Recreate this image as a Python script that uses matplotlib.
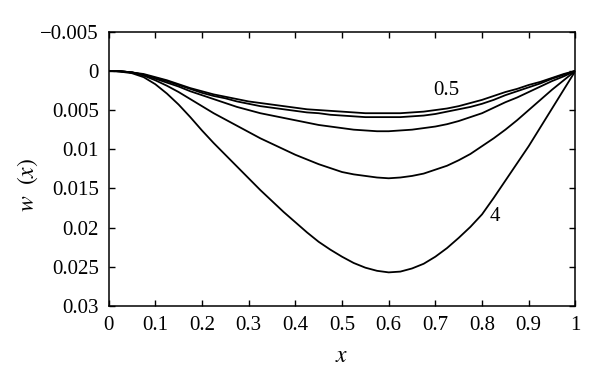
import matplotlib
matplotlib.use("Agg")
import matplotlib.pyplot as plt

# deflection curves (one point every 0.025)
x = [0.0, 0.025, 0.05, 0.075, 0.1, 0.125, 0.15, 0.175, 0.2, 0.225, 0.25,
     0.275, 0.3, 0.325, 0.35, 0.375, 0.4, 0.425, 0.45, 0.475, 0.5,
     0.525, 0.55, 0.575, 0.6, 0.625, 0.65, 0.675, 0.7, 0.725, 0.75,
     0.775, 0.8, 0.825, 0.85, 0.875, 0.9, 0.925, 0.95, 0.975, 1.0]
w_05 = [0, 0.00005, 0.0002, 0.0004, 0.0008, 0.0012, 0.0017, 0.0022, 0.0026, 0.0030, 0.0033,
        0.0036, 0.0039, 0.0041, 0.0043, 0.0045, 0.0047, 0.0049, 0.0050, 0.0051, 0.0052,
        0.0053, 0.0054, 0.0054, 0.0054, 0.0054, 0.0053, 0.0052, 0.0050, 0.0048, 0.0045,
        0.0041, 0.0037, 0.0032, 0.0027, 0.0023, 0.0018, 0.0014, 0.0009, 0.0004, 0]
w_1 = [0, 0.00005, 0.0002, 0.0005, 0.0009, 0.0013, 0.0018, 0.0023, 0.0028, 0.0032, 0.0035,
       0.0039, 0.0042, 0.0045, 0.0047, 0.0049, 0.0051, 0.0053, 0.0054, 0.0056, 0.0057,
       0.0058, 0.0059, 0.0059, 0.0059, 0.0059, 0.0058, 0.0057, 0.0055, 0.0052, 0.0049,
       0.0046, 0.0042, 0.0037, 0.0031, 0.0026, 0.0021, 0.0016, 0.0010, 0.0005, 0]
w_2 = [0, 0.00005, 0.0002, 0.0005, 0.0010, 0.0015, 0.0020, 0.0026, 0.0031, 0.0036, 0.0041,
       0.0046, 0.0050, 0.0054, 0.0057, 0.0060, 0.0063, 0.0066, 0.0069, 0.0071, 0.0073,
       0.0075, 0.0076, 0.0077, 0.0077, 0.0076, 0.0075, 0.0073, 0.0071, 0.0068, 0.0064,
       0.0059, 0.0054, 0.0047, 0.0040, 0.0034, 0.0027, 0.0020, 0.0013, 0.0007, 0]
w_3 = [0, 0.00005, 0.0002, 0.0006, 0.0012, 0.0019, 0.0027, 0.0036, 0.0045, 0.0054, 0.0062,
       0.0070, 0.0078, 0.0086, 0.0093, 0.0100, 0.0107, 0.0113, 0.0119, 0.0124, 0.0129,
       0.0132, 0.0134, 0.0136, 0.0137, 0.0136, 0.0134, 0.0131, 0.0126, 0.0121, 0.0114,
       0.0106, 0.0096, 0.0086, 0.0075, 0.0063, 0.0050, 0.0037, 0.0024, 0.0012, 0]
w_4 = [0, 0.0001, 0.0003, 0.0008, 0.0017, 0.0029, 0.0043, 0.0059, 0.0076, 0.0092, 0.0107,
       0.0122, 0.0137, 0.0152, 0.0166, 0.0180, 0.0193, 0.0206, 0.0218, 0.0228, 0.0237,
       0.0245, 0.0251, 0.0255, 0.0257, 0.0256, 0.0252, 0.0246, 0.0237, 0.0226, 0.0213,
       0.0199, 0.0183, 0.0162, 0.0140, 0.0118, 0.0096, 0.0072, 0.0048, 0.0024, 0]

xticks = [0, 0.1, 0.2, 0.3, 0.4, 0.5, 0.6, 0.7, 0.8, 0.9, 1.0]
xtick_labels = ["0", "0.1", "0.2", "0.3", "0.4", "0.5", "0.6", "0.7", "0.8", "0.9", "1"]
yticks = [-0.005, 0, 0.005, 0.01, 0.015, 0.02, 0.025, 0.03]
ytick_labels = ["\u22120.005", "0", "0.005", "0.01", "0.015", "0.02", "0.025", "0.03"]

plt.rcParams["font.family"] = ["Liberation Serif", "DejaVu Serif"]
plt.rcParams["mathtext.fontset"] = "stix"

fig = plt.figure(figsize=(6, 3.86), dpi=100)
ax = fig.add_axes([0.181, 0.207, 0.778, 0.711])

for w in [w_05, w_1, w_2, w_3, w_4]:
    ax.plot(x, w, color="black", lw=1.3)

ax.set_xlim(0, 1)
ax.set_ylim(0.03, -0.005)
ax.set_xticks(xticks)
ax.set_xticklabels(xtick_labels)
ax.set_yticks(yticks)
ax.set_yticklabels(ytick_labels)
ax.tick_params(direction="in", top=True, right=True, length=4, width=1,
               labelsize=15, pad=7)
for s in ax.spines.values():
    s.set_linewidth(1.1)

ax.text(0.724, 0.0025, "0.5", fontsize=15, ha="center", va="center")
ax.text(0.828, 0.0186, "4", fontsize=15, ha="center", va="center")

ax.set_xlabel("$x$", fontsize=17)
ax.set_ylabel("$w\\ \\ (x)$", fontsize=17)
ax.xaxis.set_label_coords(0.5, -0.145)
ax.yaxis.set_label_coords(-0.147, 0.44)

fig.savefig("out.png", dpi=100)
